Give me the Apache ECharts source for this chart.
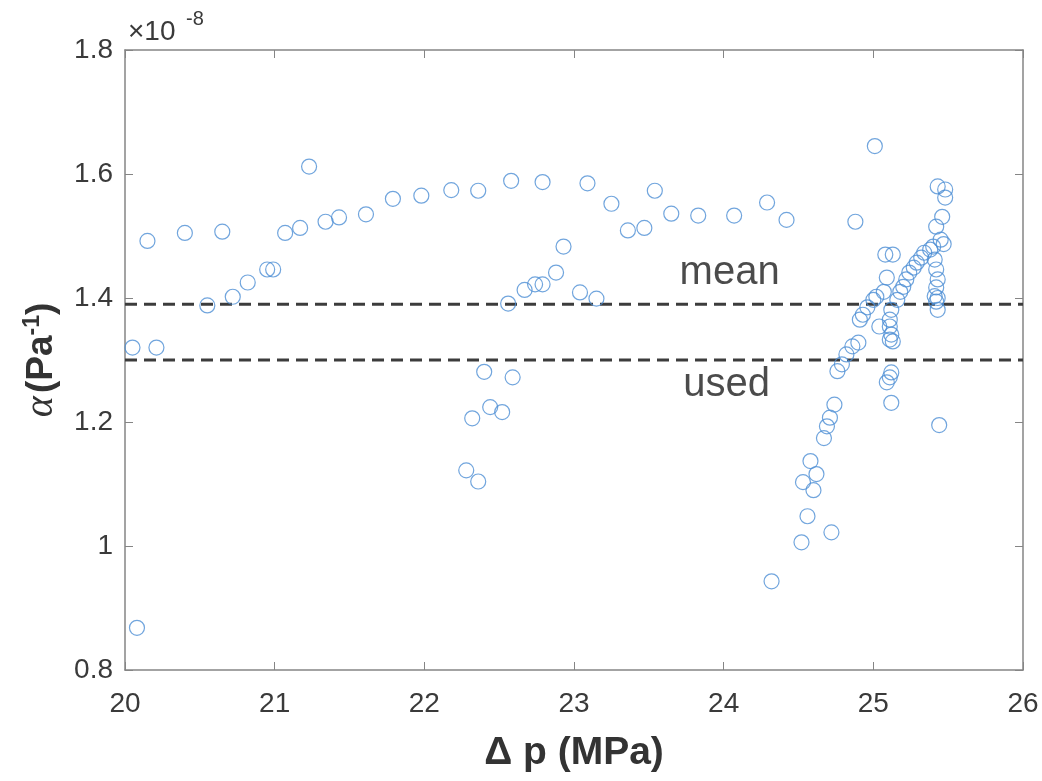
<!DOCTYPE html>
<html>
<head>
<meta charset="utf-8">
<script src="https://cdn.jsdelivr.net/npm/echarts@6/dist/echarts.min.js"></script>
<style>html,body{margin:0;padding:0;background:#fff;}#c{width:1042px;height:781px;}</style>
</head>
<body>
<div id="c"></div>
<script>
// Δp (MPa)
const dp = [
20.05,20.21,20.15,20.40,20.65,20.55,20.72,20.82,20.95,20.99,21.07,21.17,21.23,21.34,21.43,21.61,21.79,21.98,22.18,22.36,22.58,22.79,23.09,23.25,23.54,23.36,23.47,23.65,23.83,24.07,24.29,24.42,24.88,25.01,20.08,
22.93,22.88,22.79,22.74,22.67,22.56,23.04,23.15,22.40,22.59,22.32,22.44,22.52,22.28,22.36,
24.32,24.52,24.72,24.56,24.53,24.60,24.62,24.58,24.67,24.69,24.71,24.74,24.76,24.79,24.82,24.86,24.90,24.93,24.91,24.96,25.00,25.02,25.04,25.07,25.09,
25.12,25.09,25.11,25.12,25.13,25.11,25.12,25.11,25.11,25.12,25.16,25.18,25.20,25.22,25.24,25.27,25.29,25.32,25.34,25.38,25.40,25.08,25.13,
25.43,25.48,25.48,25.46,25.42,25.45,25.47,25.41,25.42,25.43,25.42,25.41,25.42,25.43,25.43,25.44
];
// α (×1e-8 Pa^-1)
const alpha = [
1.320,1.320,1.492,1.505,1.507,1.388,1.402,1.425,1.446,1.446,1.505,1.513,1.612,1.523,1.530,1.535,1.560,1.565,1.574,1.573,1.589,1.587,1.585,1.552,1.573,1.509,1.513,1.536,1.533,1.533,1.554,1.526,1.523,1.645,0.868,
1.483,1.441,1.422,1.422,1.413,1.391,1.409,1.399,1.281,1.272,1.206,1.224,1.216,1.122,1.104,
0.943,1.006,1.022,1.048,1.103,1.090,1.116,1.137,1.174,1.193,1.207,1.228,1.282,1.293,1.309,1.322,1.328,1.373,1.365,1.385,1.397,1.402,1.354,1.410,1.433,
1.231,1.264,1.272,1.280,1.330,1.333,1.341,1.354,1.365,1.381,1.397,1.410,1.418,1.430,1.441,1.449,1.457,1.465,1.473,1.478,1.483,1.470,1.470,
1.580,1.575,1.562,1.531,1.515,1.494,1.487,1.462,1.446,1.430,1.417,1.403,1.394,1.381,1.400,1.195
];
const meanValue = 1.39;
const usedValue = 1.30;
const xRange = [20, 26];
const yRange = [0.8, 1.8];
const lineLabels = [
  {name: 'mean', x: 24.04, y: 1.440},
  {name: 'used', x: 24.02, y: 1.259}
];

const points = dp.map((x, i) => [x, alpha[i]]);
const font = '"Liberation Sans", Arial, Helvetica, sans-serif';
const axisGray = '#858585';
const tickText = '#3a3a3a';

const chart = echarts.init(document.getElementById('c'), null, {renderer: 'canvas'});
const baseX = {
  type: 'value', min: xRange[0], max: xRange[1], interval: 1,
  axisLine: {show: true, lineStyle: {color: axisGray, width: 1.5}},
  axisTick: {show: true, inside: true, length: 8, lineStyle: {color: axisGray, width: 1}},
  splitLine: {show: false}
};
const baseY = {
  type: 'value', min: yRange[0], max: yRange[1], interval: 0.2,
  axisLine: {show: true, lineStyle: {color: axisGray, width: 1.5}},
  axisTick: {show: true, inside: true, length: 8, lineStyle: {color: axisGray, width: 1}},
  splitLine: {show: false}
};
chart.setOption({
  animation: false,
  backgroundColor: '#fff',
  grid: {left: 125, right: 19, top: 50, bottom: 111, containLabel: false},
  xAxis: [
    Object.assign({}, baseX, {
      position: 'bottom',
      axisLabel: {show: true, color: tickText, fontSize: 28, fontFamily: font, margin: 20},
      name: 'Δ p (MPa)', nameLocation: 'middle', nameGap: 64,
      nameTextStyle: {fontSize: 39, fontWeight: 'bold', color: '#333', fontFamily: font}
    }),
    Object.assign({}, baseX, {position: 'top', axisLabel: {show: false}})
  ],
  yAxis: [
    Object.assign({}, baseY, {
      position: 'left',
      axisLabel: {show: true, color: tickText, fontSize: 28, fontFamily: font, margin: 12,
        formatter: v => String(Math.round(v * 10) / 10)},
      name: '{a|α} {b|(Pa}{s|-1}{b|)}', nameLocation: 'middle', nameGap: 63,
      nameTextStyle: {
        rich: {
          a: {fontSize: 40, fontFamily: '"Liberation Serif", "DejaVu Serif", serif', fontStyle: 'italic', color: '#333'},
          b: {fontSize: 37, fontWeight: 'bold', fontFamily: font, color: '#333'},
          s: {fontSize: 23, fontWeight: 'bold', fontFamily: font, color: '#333', verticalAlign: 'top', padding: [0, 0, 18, 0]}
        }
      }
    }),
    Object.assign({}, baseY, {position: 'right', axisLabel: {show: false}})
  ],
  graphic: [
    {type: 'text', left: 128, top: 18,
      style: {text: '×10', fontSize: 28, fontFamily: font, fill: tickText}},
    {type: 'text', left: 186, top: 9,
      style: {text: '-8', fontSize: 20, fontFamily: font, fill: tickText}}
  ],
  series: [
    {
      type: 'line', data: [[xRange[0], meanValue], [xRange[1], meanValue]],
      symbol: 'none', silent: true, z: 1,
      lineStyle: {color: '#3c3c3c', width: 3, type: [12, 7]}
    },
    {
      type: 'line', data: [[xRange[0], usedValue], [xRange[1], usedValue]],
      symbol: 'none', silent: true, z: 1,
      lineStyle: {color: '#3c3c3c', width: 3, type: [12, 7]}
    },
    {
      type: 'scatter', data: points, symbol: 'circle', symbolSize: 15, z: 3,
      itemStyle: {color: 'rgba(0,0,0,0)', borderColor: '#4d8fd4', borderWidth: 1.2}
    },
    {
      type: 'scatter', data: lineLabels.map(d => ({value: [d.x, d.y], name: d.name})),
      symbolSize: 0, silent: true, z: 4,
      label: {show: true, position: 'inside', formatter: p => p.name,
        fontSize: 40, fontFamily: font, color: '#1e1e1e'}
    }
  ]
});
</script>
</body>
</html>
